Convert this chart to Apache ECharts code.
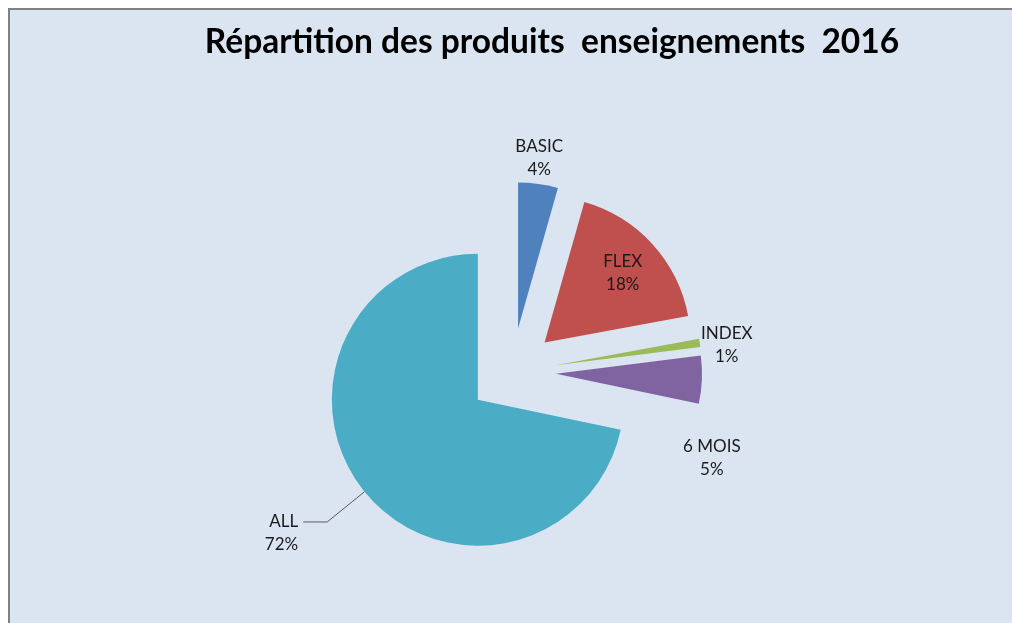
<!DOCTYPE html>
<html>
<head>
<meta charset="utf-8">
<script src="https://cdn.jsdelivr.net/npm/echarts@6/dist/echarts.min.js"></script>
<style>
    html, body { margin: 0; padding: 0; background: #ffffff; }
    #frame {
        position: absolute; left: 8px; top: 8px; width: 1010px; height: 620px;
        border-top: 2px solid #808080; border-left: 2px solid #808080;
        background: #dbe5f1;
    }
    #main { position: absolute; left: 0; top: 0; width: 1012px; height: 623px; }
</style>
</head>
<body>
<div id="frame"></div>
<div id="main"></div>
<script>
// données du graphique
var titre = 'Répartition des produits  enseignements  2016';
var produits = ['BASIC', 'FLEX', 'INDEX', '6 MOIS', 'ALL'];
var parts = [4.4, 17.7, 0.9, 5.3, 71.7];

var couleurs = ['#4f81bd', '#c0504d', '#9bbb59', '#8064a2', '#4bacc6'];

// décalage des étiquettes (dx, dy) par rapport à la position calculée par echarts
var decalages = [[-4, -26], [22, -18], [22, 2], [5, 78], null];

var myChart = echarts.init(document.getElementById('main'), null, {renderer: 'canvas'});

var dataArr = [];
for (var i = 0; i < produits.length; i++) {
    var item = {
        name: produits[i],
        value: parts[i],
        selected: true,
        itemStyle: {color: couleurs[i]},
        label: {position: 'outside'},
        labelLine: {show: false, length: 0, length2: 0}
    };
    if (produits[i] === 'FLEX') {
        item.label = {position: 'inside'};
    }
    if (produits[i] === 'ALL') {
        // ligne vide en tête pour que le trait arrive au niveau du nom
        item.label = {position: 'outside', formatter: '\n{b}\n{d}%'};
        item.labelLine = {show: true, length: 48, length2: 24, lineStyle: {color: '#595959', width: 1}};
    }
    dataArr.push(item);
}

var option = {
    animation: false,
    backgroundColor: 'transparent',
    title: {
        text: titre,
        left: 547,
        top: 20,
        textAlign: 'center',
        textStyle: {
            fontFamily: 'Lato',
            fontWeight: 'bold',
            fontSize: 33.5,
            color: '#000000'
        }
    },
    series: [
        {
            type: 'pie',
            center: [512, 372],
            radius: 146,
            startAngle: 90,
            clockwise: true,
            selectedMode: 'multiple',
            selectedOffset: 44,
            avoidLabelOverlap: false,
            percentPrecision: 0,
            emphasis: {disabled: true},
            label: {
                formatter: '{b}\n{d}%',
                fontFamily: 'Lato',
                fontSize: 17,
                lineHeight: 23,
                color: '#1a1a1a'
            },
            labelLayout: function (params) {
                var d = decalages[params.dataIndex];
                if (!d) {
                    return {};
                }
                return {align: 'center', dx: d[0], dy: d[1]};
            },
            data: dataArr
        }
    ]
};

myChart.setOption(option);
</script>
</body>
</html>
